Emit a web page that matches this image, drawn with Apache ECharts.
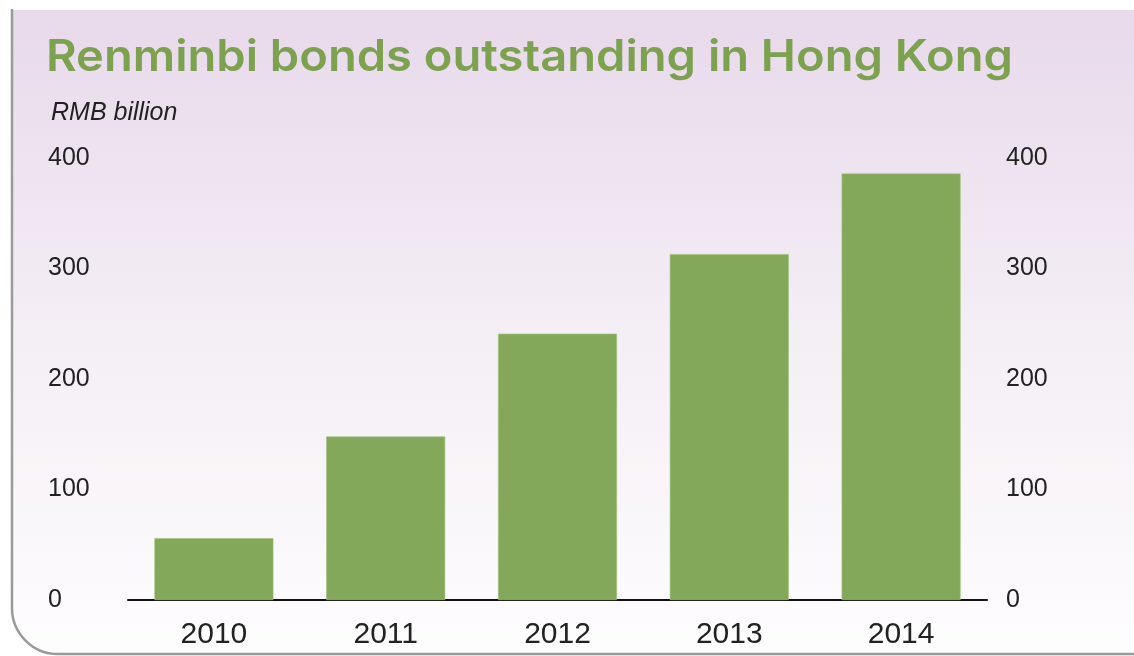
<!DOCTYPE html>
<html><head><meta charset="utf-8">
<script src="https://cdn.jsdelivr.net/npm/echarts@6/dist/echarts.min.js"></script>
<style>html,body{margin:0;padding:0;background:#fff}#c{width:1134px;height:656px}</style>
</head><body><div id="c"></div>
<script>
const categories = ['2010', '2011', '2012', '2013', '2014'];
const bondsOutstanding = [56, 148, 241, 313, 386];
const yTicks = [0, 100, 200, 300, 400];
const titleText = 'Renminbi bonds outstanding in Hong Kong';
const unitText = 'RMB billion';

const chart = echarts.init(document.getElementById('c'));
const font = '"Liberation Sans", Arial, Helvetica, sans-serif';
const yMin = yTicks[0], yMax = yTicks[yTicks.length - 1], yStep = yTicks[1] - yTicks[0];
chart.setOption({
  animation: false,
  backgroundColor: '#ffffff',
  graphic: [
    { type: 'rect', z: -10, silent: true,
      shape: { x: 12, y: 10, width: 1122, height: 644, r: [0, 0, 0, 46] },
      style: { fill: new echarts.graphic.LinearGradient(0, 0, 0, 1, [
        { offset: 0, color: '#e8d9eb' }, { offset: 0.5, color: '#f4eef5' }, { offset: 1, color: '#fefdfe' }]) } },
    { type: 'rect', z: -9, silent: true,
      shape: { x: 12, y: -60, width: 1200, height: 714, r: [0, 0, 0, 46] },
      style: { fill: 'none', stroke: '#9a9a9a', lineWidth: 2.5 } },
    { type: 'rect', z: -8, silent: true,
      shape: { x: 0, y: 0, width: 1134, height: 9 },
      style: { fill: '#ffffff' } },
    { type: 'text', x: 46, y: 36, scaleX: 1.07,
      style: { text: titleText, font: '600 44px Inter, ' + font, fill: '#7da24f', textVerticalAlign: 'top' } },
    { type: 'text', left: 51, top: 101,
      style: { text: unitText, font: 'italic 25px ' + font, fill: '#222' } }
  ],
  grid: { left: 128, right: 147, top: 158, bottom: 56, containLabel: false },
  xAxis: {
    type: 'category', data: categories,
    axisLine: { lineStyle: { color: '#111', width: 2 } },
    axisTick: { show: false },
    axisLabel: { fontSize: 30, fontFamily: font, color: '#222', margin: 20 }
  },
  yAxis: [
    { type: 'value', min: yMin, max: yMax, interval: yStep, position: 'left',
      splitLine: { show: false }, axisLine: { show: false }, axisTick: { show: false },
      axisLabel: { fontSize: 25, fontFamily: font, color: '#222', align: 'left', margin: 80 } },
    { type: 'value', min: yMin, max: yMax, interval: yStep, position: 'right',
      splitLine: { show: false }, axisLine: { show: false }, axisTick: { show: false },
      axisLabel: { fontSize: 25, fontFamily: font, color: '#222', align: 'left', margin: 19 } }
  ],
  series: [{
    type: 'bar', data: bondsOutstanding, barWidth: 119,
    itemStyle: { color: '#83a85a', borderColor: '#a3c183', borderWidth: 0.6 }
  }]
});
</script></body></html>
